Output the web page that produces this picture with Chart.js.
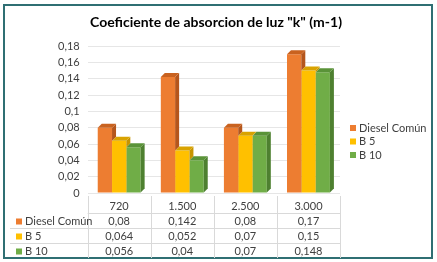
<!DOCTYPE html>
<html>
<head>
<meta charset="utf-8">
<script src="https://cdn.jsdelivr.net/npm/chart.js@4.4.1/dist/chart.umd.min.js"></script>
<style>
  html, body { margin: 0; padding: 0; background: #fff; }
  #wrap { position: relative; width: 437px; height: 262px; }
</style>
</head>
<body>
<div id="wrap"><canvas id="chart" width="437" height="262"></canvas></div>
<script>
// Chart data
const categories = ['720', '1.500', '2.500', '3.000'];
const seriesNames = ['Diesel Común', 'B 5', 'B 10'];
const dieselComun = [0.08, 0.142, 0.08, 0.17];
const b5 = [0.064, 0.052, 0.07, 0.15];
const b10 = [0.056, 0.04, 0.07, 0.148];
const tableText = [
  ['0,08', '0,142', '0,08', '0,17'],
  ['0,064', '0,052', '0,07', '0,15'],
  ['0,056', '0,04', '0,07', '0,148'],
];
const chartTitle = 'Coeficiente de absorcion de luz "k" (m-1)';

const colors = ['#ED7D31', '#FFC000', '#70AD47'];
const sideColors = ['#B5561C', '#C79400', '#4E8030'];
const topColors = ['#C9621F', '#D9A300', '#5A9338'];
const FONT = 'Lato, "Open Sans", sans-serif';

function fmt(v) {
  return String(Math.round(v * 1000) / 1000).replace('.', ',');
}

// 3D side/top faces, drawn after each dataset; the bar to the right
// (drawn earlier) is masked out so it keeps hiding what it should
const bar3d = {
  id: 'bar3d',
  afterDatasetDraw(chart, args) {
    const ctx = chart.ctx;
    const d = 4;
    const i = args.index;
    const next = chart.getDatasetMeta(i + 1);
    args.meta.data.forEach((bar, k) => {
      const p = bar.getProps(['x', 'y', 'base', 'width'], true);
      const l = p.x - p.width / 2, r = p.x + p.width / 2;
      ctx.save();
      if (i + 1 < chart.data.datasets.length) {
        const n = next.data[k].getProps(['x', 'y', 'base', 'width'], true);
        const nl = n.x - n.width / 2, nr = n.x + n.width / 2;
        ctx.beginPath();
        ctx.rect(0, 0, chart.width, chart.height);
        ctx.rect(nl, n.y, nr - nl, n.base - n.y);
        ctx.moveTo(nl, n.y);
        ctx.lineTo(nl + d, n.y - d);
        ctx.lineTo(nr + d, n.y - d);
        ctx.lineTo(nr, n.y);
        ctx.closePath();
        ctx.clip('evenodd');
      }
      ctx.fillStyle = sideColors[i];
      ctx.beginPath();
      ctx.moveTo(r, p.y);
      ctx.lineTo(r + d, p.y - d);
      ctx.lineTo(r + d, p.base - d);
      ctx.lineTo(r, p.base);
      ctx.closePath();
      ctx.fill();
      ctx.fillStyle = topColors[i];
      ctx.beginPath();
      ctx.moveTo(l, p.y);
      ctx.lineTo(l + d, p.y - d);
      ctx.lineTo(r + d, p.y - d);
      ctx.lineTo(r, p.y);
      ctx.closePath();
      ctx.fill();
      ctx.restore();
    });
  },
};

// title, data table, legend and frame
const extras = {
  id: 'extras',
  afterDraw(chart) {
    const ctx = chart.ctx;
    const area = chart.chartArea;
    const x = chart.scales.x;
    const top = area.bottom + 5;
    const rowH = 15;
    ctx.save();
    // frame
    ctx.strokeStyle = '#2F6F73';
    ctx.lineWidth = 2;
    ctx.strokeRect(4, 5, 428, 253);

    // title
    ctx.fillStyle = '#000';
    ctx.font = 'bold 14px ' + FONT;
    ctx.textAlign = 'center';
    ctx.textBaseline = 'middle';
    ctx.fillText(chartTitle, 216, 22);

    // table grid
    ctx.strokeStyle = '#D9D9D9';
    ctx.lineWidth = 1;
    const step = (area.right - area.left) / categories.length;
    for (let c = 0; c <= categories.length; c++) {
      const xx = Math.round(area.left + c * step) + 0.5;
      ctx.beginPath();
      ctx.moveTo(xx, top - 2);
      ctx.lineTo(xx, top + rowH * 4);
      ctx.stroke();
    }
    for (let r = 1; r <= 3; r++) {
      const yy = Math.round(top + r * rowH) + 0.5;
      ctx.beginPath();
      ctx.moveTo(r === 1 ? area.left : 10, yy);
      ctx.lineTo(area.right, yy);
      ctx.stroke();
    }

    ctx.font = '11px ' + FONT;
    ctx.fillStyle = '#404040';
    categories.forEach((cat, c) => {
      ctx.fillText(cat, x.getPixelForValue(c), top + rowH / 2 + 1);
    });
    seriesNames.forEach((name, s) => {
      const yy = top + rowH * (s + 1) + rowH / 2 + 1;
      ctx.fillStyle = colors[s];
      ctx.fillRect(16, yy - 3, 6, 6);
      ctx.fillStyle = '#404040';
      ctx.textAlign = 'left';
      ctx.fillText(name, 25, yy);
      ctx.textAlign = 'center';
      tableText[s].forEach((t, c) => {
        ctx.fillText(t, x.getPixelForValue(c), yy);
      });
    });

    // legend
    seriesNames.forEach((name, s) => {
      const yy = 128 + s * 13.5;
      ctx.fillStyle = colors[s];
      ctx.fillRect(350, yy - 3, 6, 6);
      ctx.fillStyle = '#404040';
      ctx.textAlign = 'left';
      ctx.fillText(name, 359, yy);
    });
    ctx.restore();
  },
};

new Chart(document.getElementById('chart'), {
  type: 'bar',
  data: {
    labels: categories,
    datasets: [
      { label: seriesNames[0], data: dieselComun, backgroundColor: colors[0] },
      { label: seriesNames[1], data: b5, backgroundColor: colors[1] },
      { label: seriesNames[2], data: b10, backgroundColor: colors[2] },
    ],
  },
  options: {
    responsive: false,
    animation: false,
    layout: { padding: { left: 50, right: 97, top: 46, bottom: 69 } },
    datasets: { bar: { categoryPercentage: 0.68, barPercentage: 1 } },
    plugins: {
      legend: { display: false },
      tooltip: { enabled: false },
      title: { display: false },
    },
    scales: {
      x: { display: false },
      y: {
        min: 0,
        max: 0.18,
        ticks: {
          stepSize: 0.02,
          color: '#404040',
          font: { family: FONT, size: 11 },
          padding: 8,
          callback: (v) => fmt(v),
        },
        grid: { color: '#E6E6E6', drawTicks: false },
        border: { display: false },
      },
    },
  },
  plugins: [bar3d, extras],
});
</script>
</body>
</html>
